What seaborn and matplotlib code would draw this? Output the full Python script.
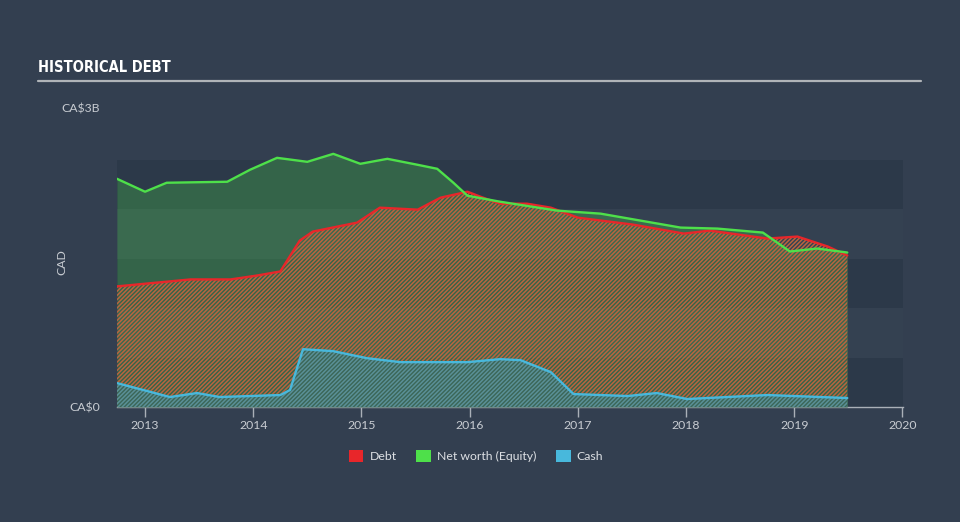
import numpy as np
import pandas as pd
import matplotlib
matplotlib.use("Agg")
import matplotlib.pyplot as plt
from matplotlib.patches import Patch
from matplotlib.lines import Line2D
import seaborn as sns

# ---- data (CA$ billions) ----
equity_years = [2012.74, 2013.00, 2013.20, 2013.76, 2013.97, 2014.22, 2014.50, 2014.74,
                2014.99, 2015.24, 2015.52, 2015.70, 2015.85, 2015.98, 2016.28, 2016.81,
                2017.21, 2017.95, 2018.29, 2018.71, 2018.96, 2019.21, 2019.49]
equity_vals = [2.29, 2.16, 2.25, 2.26, 2.38, 2.50, 2.46, 2.54,
               2.44, 2.49, 2.43, 2.39, 2.25, 2.12, 2.06, 1.97,
               1.94, 1.80, 1.79, 1.75, 1.56, 1.59, 1.55]

debt_years = [2012.74, 2013.42, 2013.79, 2014.04, 2014.25, 2014.43, 2014.55, 2014.96,
              2015.17, 2015.52, 2015.73, 2015.98, 2016.10, 2016.28, 2016.53, 2016.75,
              2017.00, 2017.51, 2017.98, 2018.22, 2018.75, 2019.03, 2019.31, 2019.49]
debt_vals = [1.21, 1.28, 1.28, 1.32, 1.36, 1.67, 1.76, 1.85,
             2.00, 1.98, 2.10, 2.16, 2.11, 2.04, 2.04, 2.00,
             1.90, 1.83, 1.74, 1.77, 1.69, 1.71, 1.61, 1.52]

cash_years = [2012.74, 2013.23, 2013.48, 2013.69, 2014.25, 2014.34, 2014.46, 2014.74,
              2015.05, 2015.36, 2015.98, 2016.28, 2016.47, 2016.75, 2016.96, 2017.46,
              2017.73, 2018.01, 2018.75, 2019.49]
cash_vals = [0.24, 0.10, 0.14, 0.10, 0.12, 0.17, 0.58, 0.56,
             0.49, 0.45, 0.45, 0.48, 0.47, 0.35, 0.13, 0.11,
             0.14, 0.08, 0.12, 0.09]

series_names = ["Debt", "Net worth (Equity)", "Cash"]
series_colors = ["#e8262a", "#4ee04a", "#48b8dc"]
x_ticks = [2013, 2014, 2015, 2016, 2017, 2018, 2019, 2020]
y_ticks = [0, 3]
y_tick_labels = ["CA\\$0", "CA\\$3B"]

# ---- style ----
BG = "#333f50"
DARK_BAND = "#2c3949"
LIGHT_BAND = "#344151"
TXT = "#c8ccd2"
AXC = "#aab0b8"

sns.set_style("dark")
plt.rcParams["font.family"] = ["Lato", "DejaVu Sans"]
plt.rcParams["hatch.linewidth"] = 1.1

fig = plt.figure(figsize=(9.6, 5.22), dpi=100, facecolor=BG)
ax = fig.add_axes([117/960, 1-407/522, (903-117)/960, (407-108)/522])
ax.set_facecolor(BG)

# background bands
band_top = 2.478
nb = 5
for i in range(nb):
    lo = band_top * i / nb
    hi = band_top * (i + 1) / nb
    ax.axhspan(lo, hi, color=DARK_BAND if i % 2 == 0 else LIGHT_BAND, lw=0, zorder=0)

df = pd.concat([
    pd.DataFrame({"year": debt_years, "value": debt_vals, "series": "Debt"}),
    pd.DataFrame({"year": equity_years, "value": equity_vals, "series": "Net worth (Equity)"}),
    pd.DataFrame({"year": cash_years, "value": cash_vals, "series": "Cash"}),
], ignore_index=True)
palette = dict(zip(series_names, series_colors))

# fills
ax.fill_between(equity_years, equity_vals, 0, color="#4ee04a", alpha=0.26, lw=0, zorder=1)
ax.fill_between(debt_years, debt_vals, 0, facecolor="none", edgecolor="#b9643f",
                hatch="////////", lw=0, zorder=2)
ax.fill_between(cash_years, cash_vals, 0, facecolor="#3b6658", lw=0, zorder=3)
ax.fill_between(cash_years, cash_vals, 0, facecolor="none", edgecolor="#5a9097",
                hatch="////////", lw=0, zorder=3)

sns.lineplot(data=df, x="year", y="value", hue="series", hue_order=series_names,
             palette=palette, estimator=None, sort=True, linewidth=1.7,
             legend=False, ax=ax, zorder=5)

ax.set_xlim(2012.741, 2020.005)
ax.set_ylim(0, 3)
ax.set_xticks(x_ticks)
ax.set_xticklabels([str(t) for t in x_ticks])
ax.set_yticks(y_ticks)
ax.set_yticklabels(y_tick_labels)
ax.grid(False)
for s in ["left", "top", "right"]:
    ax.spines[s].set_visible(False)
ax.spines["bottom"].set_color(AXC)
ax.spines["bottom"].set_linewidth(1.0)
ax.tick_params(axis="x", colors=AXC, labelcolor=TXT, direction="out", length=7.5,
               width=1.0, labelsize=8.8, pad=2, bottom=True)
ax.tick_params(axis="y", length=0, labelcolor=TXT, labelsize=8.8, pad=12)
ax.set_xlabel("")
ax.set_ylabel("CAD", color=TXT, fontsize=8.8)
ax.yaxis.set_label_coords((67-117)/786, (407-262)/299)

# title and rule
fig.text(38/960, 1-68/522, "HISTORICAL DEBT", color="white", fontsize=10.5,
         fontweight="bold", fontstretch="condensed", family=["DejaVu Sans"],
         va="center", ha="left")
fig.add_artist(Line2D([38/960, 921/960], [1-81/522, 1-81/522], color="#b0b4b8", lw=1.6,
                      transform=fig.transFigure))

handles = [Patch(facecolor=c, edgecolor="none") for c in series_colors]
fig.legend(handles, series_names, loc="center", bbox_to_anchor=(476/960, 1-456/522),
           ncol=3, frameon=False, fontsize=8.8, labelcolor="#dde0e4",
           handlelength=1.2, handleheight=1.1, handletextpad=0.5, columnspacing=1.6)

fig.savefig("out.png", dpi=100, facecolor=BG)
